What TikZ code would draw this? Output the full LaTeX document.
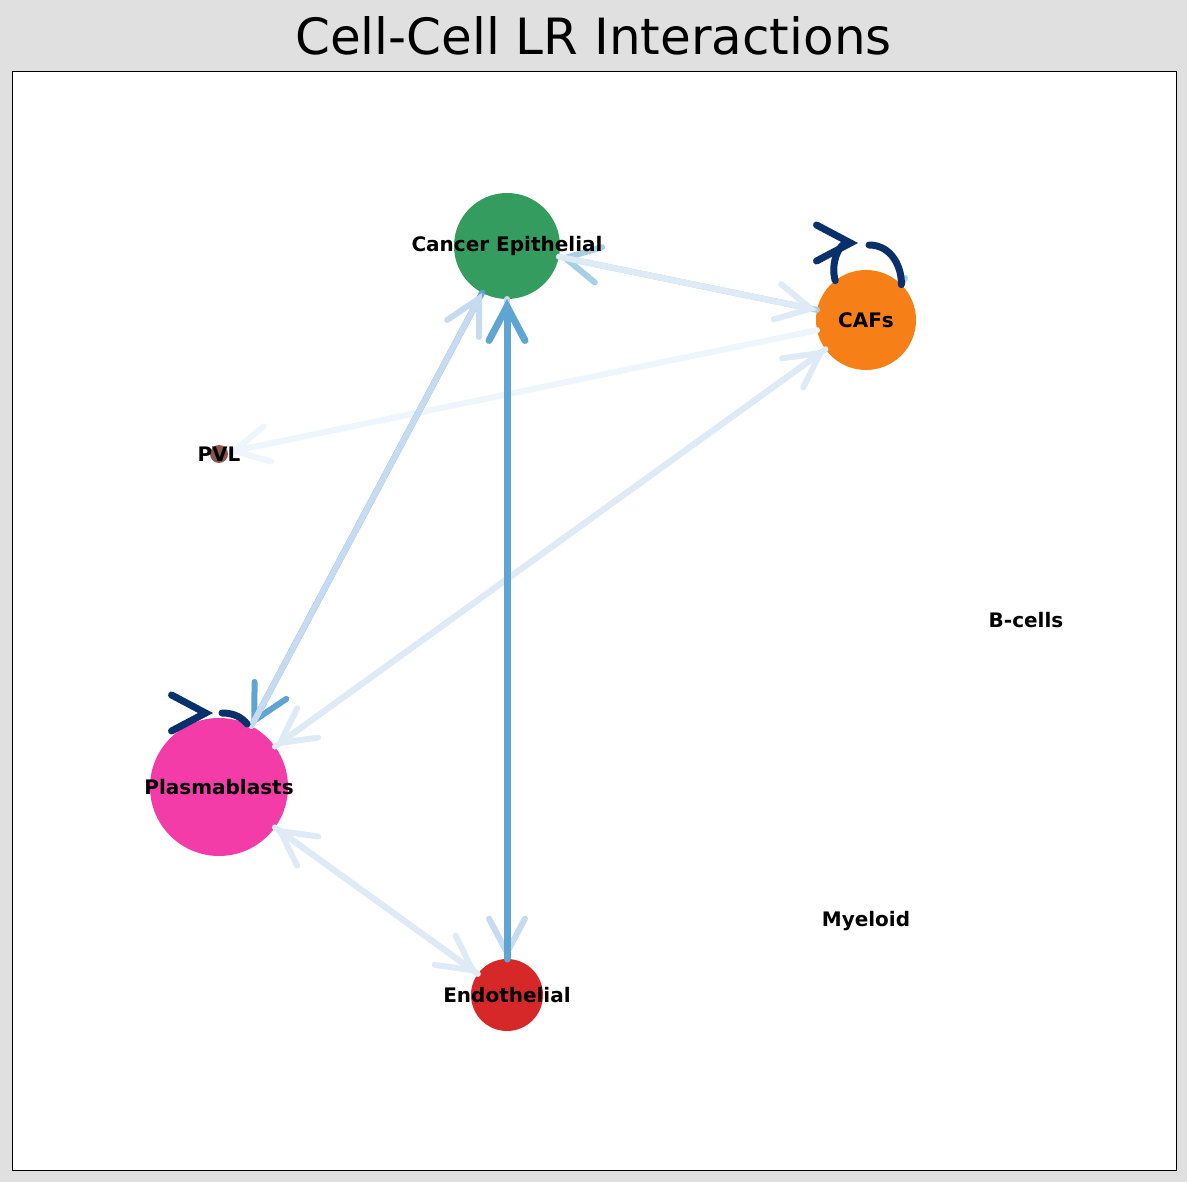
\documentclass[tikz,border=0pt]{standalone}
\usepackage{fontspec}
\setmainfont{DejaVu Sans}
\usetikzlibrary{arrows.meta}
\definecolor{bgc}{HTML}{E0E0E0}
\definecolor{cep}{HTML}{359C5F}
\definecolor{caf}{HTML}{F77F17}
\definecolor{pvl}{HTML}{8C564B}
\definecolor{pla}{HTML}{F43CA9}
\definecolor{endo}{HTML}{D62828}
\definecolor{e1}{HTML}{5FA5D3}
\definecolor{e2}{HTML}{A9CFE5}
\definecolor{e3}{HTML}{C6DBEF}
\definecolor{e4}{HTML}{DEEBF7}
\definecolor{e5}{HTML}{EEF5FC}
\definecolor{navy}{HTML}{08306B}
\begin{document}
\begin{tikzpicture}[x=1pt,y=-1pt,
  cell/.style={circle,draw=none,inner sep=0pt,outer sep=0pt},
  lab/.style={font=\fontsize{20}{22}\selectfont\bfseries},
  ed/.style={line width=6pt,line cap=round,-{Straight Barb[length=34pt,width=36pt,line cap=round]}}]
\fill[bgc] (0,0) rectangle (1187,1182);
\useasboundingbox (0,0) rectangle (1187,1182);
\fill[white] (12,72) rectangle (1176,1170);
\draw[line width=1pt] (12,72) rectangle (1176,1170);
\node (title) at (593.5,36) {\fontsize{50}{55}\selectfont Cell-Cell LR Interactions};
\node[cell,fill=cep,minimum size=106pt] (ce) at (507,246) {};
\node[cell,fill=caf,minimum size=100pt] (caf) at (866,320) {};
\node[cell,fill=pvl,minimum size=18pt] (pvl) at (219,454) {};
\node[cell,fill=pla,minimum size=138pt] (pb) at (219,787) {};
\node[cell,fill=endo,minimum size=72pt] (en) at (507,995) {};
\coordinate (bc) at (1026,620);
\coordinate (my) at (866,921);
\coordinate (l1) at (205,713);
% edges
\draw[ed,e5] (caf) -- (pvl);
\draw[ed,e4] (pb) -- (caf);
\draw[ed,e4] (caf) -- (pb);
\draw[ed,e4] (pb) -- (en);
\draw[ed,e4] (en) -- (pb);
\draw[ed,e2] (caf) -- (ce);
\draw[ed,e4] (ce) -- (caf);
\draw[ed,e1] (ce) -- (pb);
\draw[ed,e3] (pb) -- (ce);
\draw[ed,e3] (ce) -- (en);
\draw[ed,e1,line width=7pt] (en) -- (ce);
% self loops
\draw[line width=6pt,e2,line cap=round] (caf.45) -- (905,278);
\draw[ed,navy,line width=7pt] (caf.128) .. controls (830,262) and (840,243) .. (858,243);
\draw[navy,line width=7pt,line cap=round] (869,245) .. controls (892,245) and (902,268) .. (caf.45);
\draw[ed,navy,line width=7pt] (l1) -- (213,713);
\draw[navy,line width=7pt,line cap=round] (222,713) .. controls (236,713) and (243,719) .. (pb.66);
% labels
\node[lab] at (ce) {Cancer Epithelial};
\node[lab] at (caf) {CAFs};
\node[lab] at (pvl) {PVL};
\node[lab] at (pb) {Plasmablasts};
\node[lab] at (en) {Endothelial};
\node[lab] at (bc) {B-cells};
\node[lab] at (my) {Myeloid};
\end{tikzpicture}
\end{document}
